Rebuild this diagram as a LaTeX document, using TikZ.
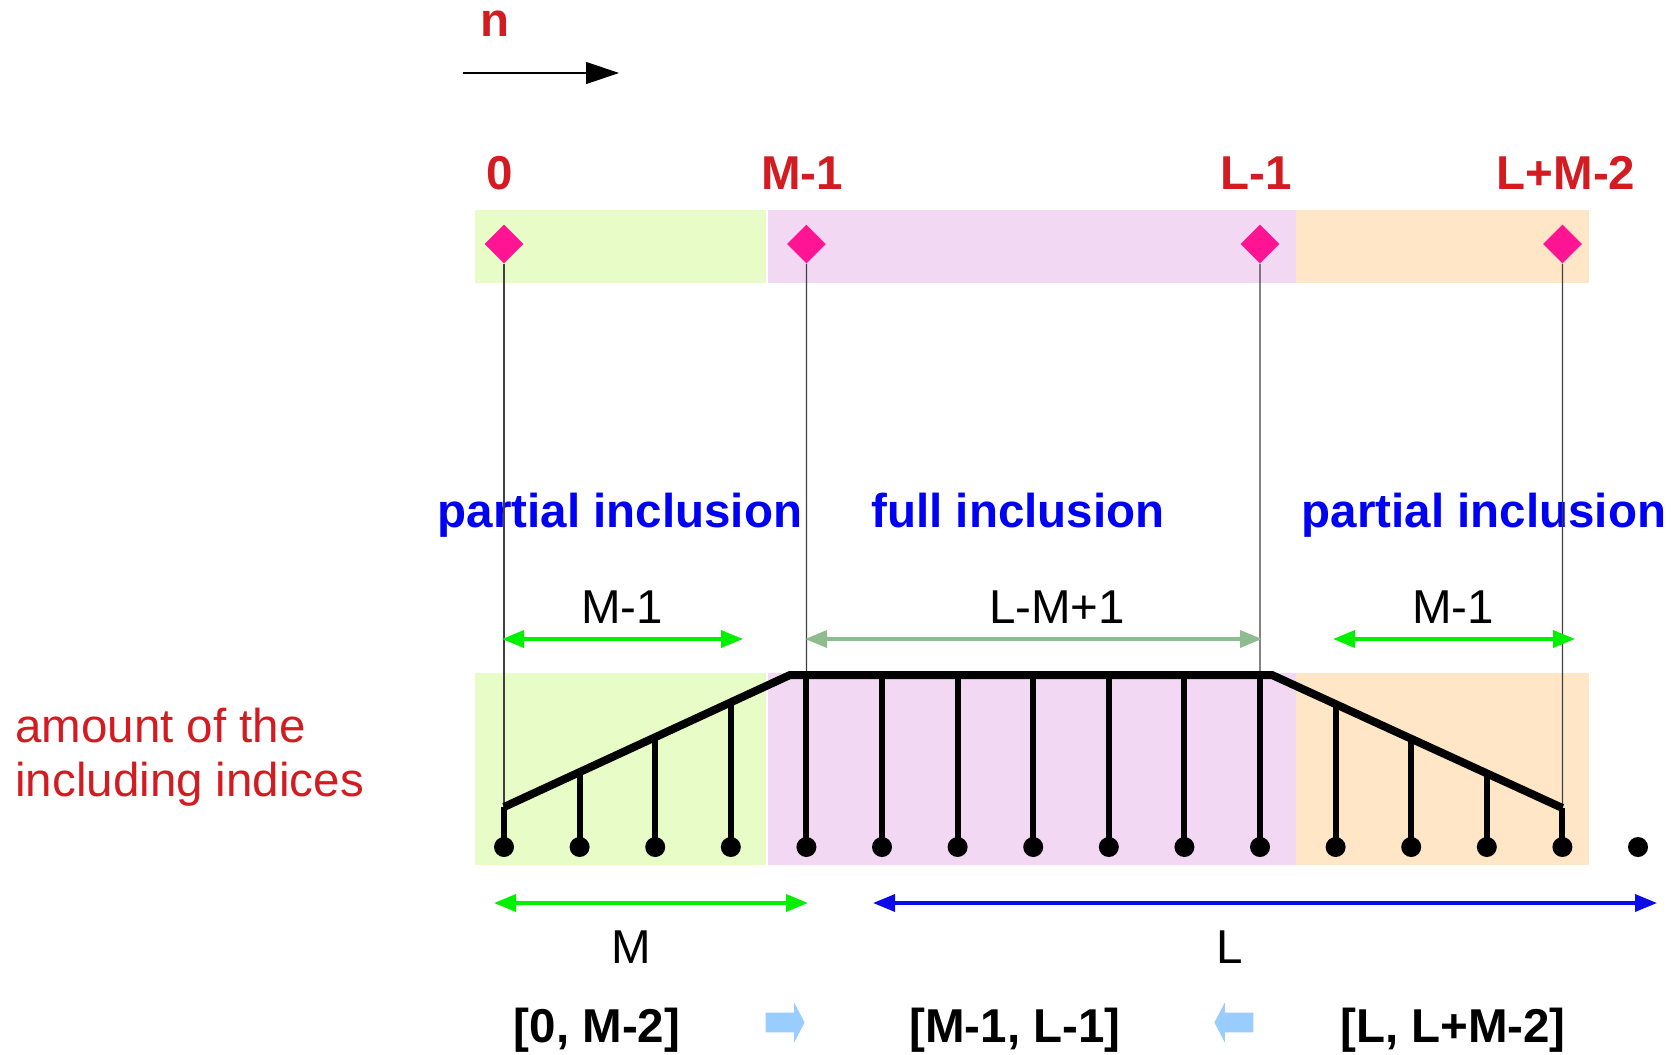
\documentclass[tikz,border=0pt]{standalone}
\usepackage{fontspec}
\setmainfont{Liberation Sans}
\usetikzlibrary{shapes.geometric, shapes.arrows, arrows.meta, calc}

\definecolor{bandgreen}{RGB}{232,252,200}
\definecolor{bandpink}{RGB}{243,216,243}
\definecolor{bandorange}{RGB}{255,230,198}
\definecolor{markpink}{RGB}{255,20,147}
\definecolor{labelred}{RGB}{210,28,34}
\definecolor{labelblue}{RGB}{0,0,245}
\definecolor{spangreen}{RGB}{0,240,0}
\definecolor{spandim}{RGB}{143,188,143}
\definecolor{spanblue}{RGB}{10,10,235}
\definecolor{hintblue}{RGB}{153,204,255}

\begin{document}
\begin{tikzpicture}[
    x=0.5pt, y=-0.5pt,
    font=\fontsize{23.75}{25}\selectfont,
    index/.style={anchor=base, text=labelred, font=\fontsize{23.75}{25}\selectfont\bfseries, inner sep=0pt},
    region/.style={anchor=base, text=labelblue, font=\fontsize{23.75}{25}\selectfont\bfseries, inner sep=0pt},
    count/.style={anchor=base, inner sep=0pt},
    interval/.style={anchor=base, font=\fontsize{23.75}{25}\selectfont\bfseries, inner sep=0pt},
    marker/.style={diamond, fill=markpink, inner sep=0pt, minimum width=19.5pt, minimum height=19.5pt},
    sample/.style={circle, fill=black, inner sep=0pt, minimum size=10pt},
    stem/.style={line width=3pt},
    envelope/.style={line width=4pt, line join=miter},
    guide/.style={line width=0.6pt, draw=black!75},
    measure/.style={line width=1.7pt, {Triangle[length=11pt,width=8.5pt]}-{Triangle[length=11pt,width=8.5pt]}},
    hint/.style={single arrow, fill=hintblue, inner xsep=0pt, inner ysep=4.75pt, minimum height=19.5pt,
        single arrow head extend=5pt, single arrow tip angle=125}
]
\useasboundingbox (0,0) rectangle (1673,1054);

% -------------------------
% 1. Bands (index axis and sequence)
% -------------------------
\fill[bandgreen]  (475,210) rectangle (766,283);
\fill[bandpink]   (767.5,210) rectangle (1296,283);
\fill[bandorange] (1296,210) rectangle (1589,283);
\fill[bandgreen]  (475,673) rectangle (766,865);
\fill[bandpink]   (767.5,673) rectangle (1296,865);
\fill[bandorange] (1296,673) rectangle (1589,865);

% -------------------------
% 2. Direction of n
% -------------------------
\node[index] (nlabel) at (495,37) {n};
\coordinate (dirA) at (463,73);
\coordinate (dirB) at (619,73);
\draw[line width=0.6pt, -{Triangle[length=16.5pt,width=11pt]}] (dirA) -- (dirB);

% -------------------------
% 3. Index labels and markers
% -------------------------
\node[index] (idx0)  at (500,189)  {0};
\node[index] (idxM)  at (802,189)  {M-1};
\node[index] (idxL)  at (1256,189) {L-1};
\node[index] (idxLM) at (1566,189) {L+M-2};

\node[marker] (mk0) at (504,244) {};
\node[marker] (mk1) at (806.4,244) {};
\node[marker] (mk2) at (1260,244) {};
\node[marker] (mk3) at (1562.4,244) {};

% -------------------------
% 4. Region names
% -------------------------
\node[region] (partL) at (620,527)  {partial inclusion};
\node[region] (full)  at (1018,527) {full inclusion};
\node[region] (partR) at (1484,527) {partial inclusion};

\node[anchor=base west, text=labelred, align=left, inner sep=0pt,
      font=\fontsize{23.75}{27}\selectfont] (amount) at (15,796)
    {amount of the\\including indices};

% -------------------------
% 5. Samples, stems and envelope
% -------------------------
\foreach \i in {0,...,15}
    \node[sample] (s\i) at ({504+75.6*\i},847) {};

\foreach \i/\top in {0/807,1/772,2/737,3/702,4/675,5/675,6/675,7/675,8/675,9/675,10/675,11/704,12/739,13/773,14/808}
    \coordinate (t\i) at ({504+75.6*\i},\top);

\draw[guide] (mk0.south) -- (t0);
\draw[guide] (mk1.south) -- (t4);
\draw[guide] (mk2.south) -- (t10);
\draw[guide] (mk3.south) -- (t14);

\coordinate (riseEnd) at (790,675);
\coordinate (fallStart) at (1272,675);
\draw[envelope] (t0) -- (riseEnd) -- (fallStart) -- (t14);

\foreach \i in {0,...,14}
    \draw[stem] (s\i.center) -- (t\i);

% -------------------------
% 6. Lengths
% -------------------------
\coordinate (w1a) at (502,639);  \coordinate (w1b) at (743,639);
\coordinate (w2a) at (805,639);  \coordinate (w2b) at (1262,639);
\coordinate (w3a) at (1333,639); \coordinate (w3b) at (1575,639);
\draw[measure, spangreen] (w1a) -- (w1b);
\draw[measure, spandim]   (w2a) -- (w2b);
\draw[measure, spangreen] (w3a) -- (w3b);
\node[count] (len1) at (622,623)  {M-1};
\node[count] (len2) at (1057,623) {L-M+1};
\node[count] (len3) at (1453,623) {M-1};

\coordinate (wMa) at (494,903); \coordinate (wMb) at (808,903);
\coordinate (wLa) at (873,903); \coordinate (wLb) at (1657,903);
\draw[measure, spangreen] (wMa) -- (wMb);
\draw[measure, spanblue]  (wLa) -- (wLb);
\node[count] (lenM) at (631,963)  {M};
\node[count] (lenL) at (1230,963) {L};

% -------------------------
% 7. Intervals
% -------------------------
\node[interval] (int1) at (597,1042)  {[0, M-2]};
\node[interval] (int2) at (1015,1042) {[M-1, L-1]};
\node[interval] (int3) at (1453,1042) {[L, L+M-2]};
\node[hint] (hintR) at (782.5,1022.5) {};
\node[hint, shape border rotate=180] (hintL) at (1236.5,1022.5) {};

\end{tikzpicture}
\end{document}
